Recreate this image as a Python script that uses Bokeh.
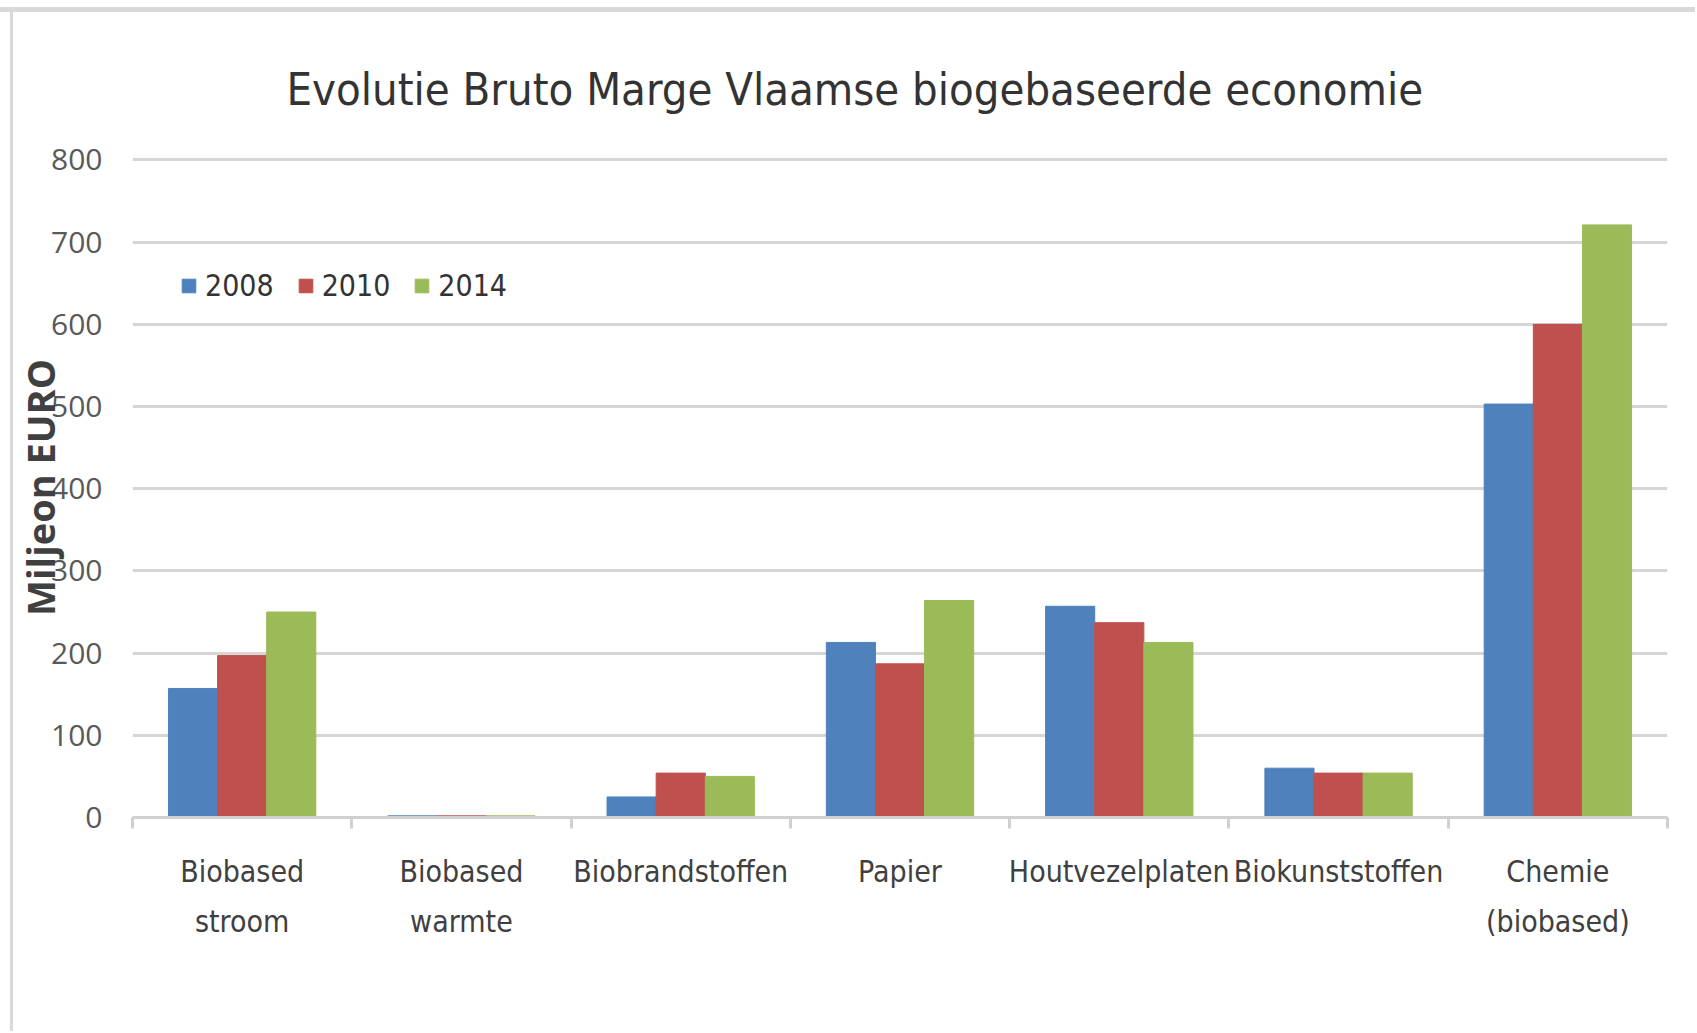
import numpy as np
from bokeh.plotting import figure
from bokeh.models import (FixedTicker, Legend, LegendItem, ColumnDataSource,
                          Range1d)
from bokeh.transform import dodge
from bokeh.embed import file_html
from bokeh.resources import INLINE

categories = ["Biobased\nstroom", "Biobased\nwarmte", "Biobrandstoffen", "Papier",
              "Houtvezelplaten", "Biokunststoffen", "Chemie\n(biobased)"]
years = ["2008", "2010", "2014"]
v2008 = [157, 2, 25, 213, 257, 60, 503]
v2010 = [197, 2, 54, 187, 237, 54, 600]
v2014 = [250, 2, 50, 264, 213, 54, 721]
yticks = [0, 100, 200, 300, 400, 500, 600, 700, 800]

colors = ["#4F81BD", "#C0504D", "#9BBB59"]
NARROW = "'Liberation Sans Narrow', 'DejaVu Sans Condensed', 'Roboto Condensed', sans-serif"

n = len(categories)
centers = [i + 0.5 for i in range(n)]
bounds = [float(i) for i in range(n + 1)]

source = ColumnDataSource(data=dict(x=centers, y2008=v2008, y2010=v2010, y2014=v2014))

p = figure(width=1695, height=1031, output_backend="svg", toolbar_location=None,
           x_range=Range1d(0, n), y_range=Range1d(0, 803),
           min_border_left=132, min_border_right=28, min_border_top=157,
           min_border_bottom=214)
p.border_fill_color = None
p.styles = {"background": "linear-gradient(#d9d9d9,#d9d9d9) 0px 7px / 100% 5px no-repeat, "
                          "linear-gradient(#d9d9d9,#d9d9d9) 10px 7px / 3px 100% no-repeat, white"}

bw = 0.224
renderers = []
for k, (yr, col) in enumerate(zip(years, colors)):
    off = (k - 1) * bw
    r = p.vbar(x=dodge("x", off, range=p.x_range), top="y" + yr, width=bw, bottom=0,
               source=source, fill_color=col, line_color=col, line_width=1)
    renderers.append(r)

# title
p.title.text = "Evolutie Bruto Marge Vlaamse biogebaseerde economie"
p.title.text_font = NARROW
p.title.text_font_size = "45px"
p.title.text_font_style = "normal"
p.title.text_color = "#333333"
p.title.align = "left"
p.title.offset = 154
p.title.standoff = 83

# grid
p.xgrid.grid_line_color = None
p.ygrid.ticker = FixedTicker(ticks=yticks)
p.ygrid.grid_line_color = "#d6d6d6"
p.ygrid.grid_line_width = 3
p.outline_line_color = None

# y axis
p.yaxis.ticker = FixedTicker(ticks=yticks)
p.yaxis.axis_line_color = None
p.yaxis.major_tick_line_color = None
p.yaxis.minor_tick_line_color = None
p.yaxis.major_label_text_font = "Open Sans"
p.yaxis.major_label_text_font_size = "30px"
p.yaxis.major_label_text_color = "#595959"
p.yaxis.major_label_standoff = 24
p.yaxis.axis_label = "Miljeon EURO"
p.yaxis.axis_label_text_font = "Open Sans"
p.yaxis.axis_label_text_font_style = "bold"
p.yaxis.axis_label_text_font_size = "38px"
p.yaxis.axis_label_text_color = "#404040"
p.yaxis.axis_label_standoff = -18

# x axis
p.xaxis.ticker = FixedTicker(ticks=centers, minor_ticks=bounds)
p.xaxis.major_label_overrides = {c: lab for c, lab in zip(centers, categories)}
p.xaxis.axis_line_color = "#d0d0d0"
p.xaxis.axis_line_width = 3
p.xaxis.major_tick_line_color = None
p.xaxis.minor_tick_line_color = "#d0d0d0"
p.xaxis.minor_tick_line_width = 3
p.xaxis.minor_tick_in = 0
p.xaxis.minor_tick_out = 11
p.xaxis.major_label_text_font = NARROW
p.xaxis.major_label_text_font_size = "30px"
p.xaxis.major_label_text_line_height = 1.45
p.xaxis.major_label_text_color = "#404040"
p.xaxis.major_label_standoff = 25

legend = Legend(items=[LegendItem(label=yr, renderers=[r]) for yr, r in zip(years, renderers)],
                orientation="horizontal", location=(48, 514))
legend.glyph_width = 17
legend.glyph_height = 17
legend.label_standoff = 8
legend.spacing = 23
legend.padding = 0
legend.margin = 0
legend.border_line_color = None
legend.background_fill_alpha = 0
legend.label_text_font = NARROW
legend.label_text_font_size = "30px"
legend.label_text_color = "#333333"
p.add_layout(legend)

open("out.html", "w").write(file_html(p, INLINE))
